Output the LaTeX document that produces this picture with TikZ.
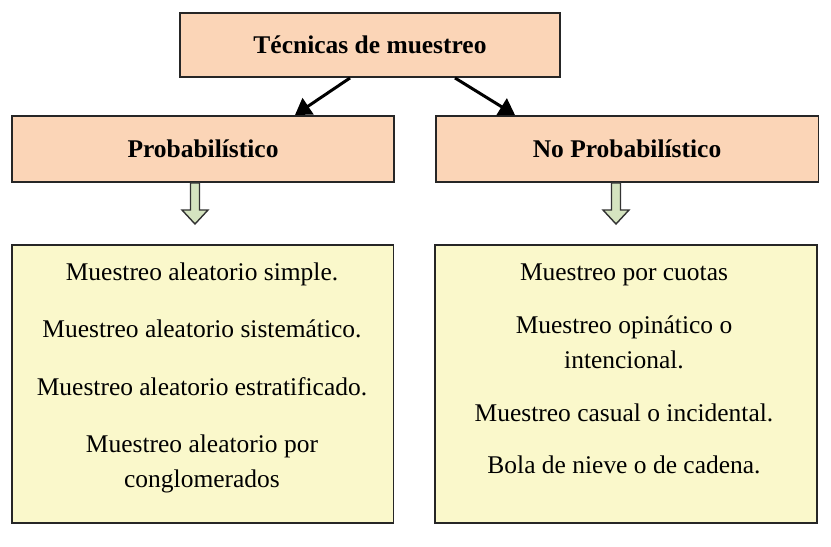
\documentclass[tikz,border=0pt]{standalone}
\usepackage{fontspec}
\setmainfont{Liberation Serif}
\usetikzlibrary{arrows.meta}

\definecolor{durazno}{HTML}{FBD5B7}
\definecolor{crema}{HTML}{FAF8CB}
\definecolor{verdecito}{HTML}{D5E4C0}

\tikzset{
	titulo/.style={draw=black!85, line width=1.1pt, fill=durazno, minimum height=1.28cm,
		font=\fontsize{14.5}{17}\selectfont\bfseries},
	caja/.style={draw=black!85, line width=1.1pt, fill=crema, minimum width=7.64cm, minimum height=5.56cm},
	lista/.style={align=center, font=\fontsize{14.5}{20}\selectfont},
	rama/.style={line width=1.7pt, -{Triangle[length=9pt,width=11pt]}},
	bloque/.style={draw=black!80, line width=0.8pt, fill=verdecito}
}

\begin{document}
\begin{tikzpicture}[x=0.02cm, y=-0.02cm]
	\useasboundingbox (0,0) rectangle (831,547);

	\node[titulo, minimum width=7.6cm] (tec) at (370,45) {Técnicas de muestreo};
	\node[titulo, minimum width=7.64cm, minimum height=1.32cm] (prob) at (203,149) {Probabilístico};
	\node[titulo, minimum width=7.66cm, minimum height=1.32cm] (noprob) at (627,149) {No Probabilístico};

	\draw[rama] ([xshift=-0.4cm]tec.south) -- ([xshift=1.84cm]prob.north);
	\draw[rama] ([xshift=1.7cm]tec.south) -- ([xshift=-2.24cm]noprob.north);

	\node[caja] (cprob) at (202.5,384) {};
	\node[caja] (cnoprob) at (626,384) {};

	\node[lista] (lprob) at (202,378) {Muestreo aleatorio simple.\\[12.5pt]
		Muestreo aleatorio sistemático.\\[12.5pt]
		Muestreo aleatorio estratificado.\\[12.5pt]
		Muestreo aleatorio por\\conglomerados};
	\node[lista] (lnoprob) at (624,369) {Muestreo por cuotas\\[10pt]
		Muestreo opinático o\\intencional.\\[10pt]
		Muestreo casual o incidental.\\[10pt]
		Bola de nieve o de cadena.};

	% flechas gruesas
	\foreach \n/\x in {prob/195, noprob/616}
		\draw[bloque] (\x-4.5,183) -- (\x-4.5,210) -- (\x-13,210) -- (\x,224)
			-- (\x+13,210) -- (\x+4.5,210) -- (\x+4.5,183) -- cycle;
\end{tikzpicture}
\end{document}
